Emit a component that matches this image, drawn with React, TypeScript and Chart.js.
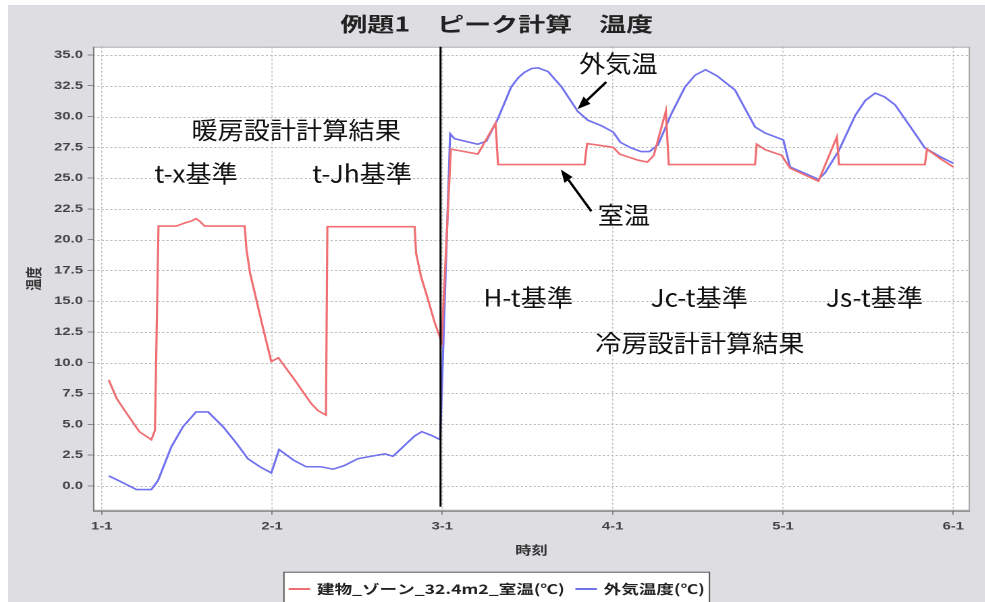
import React, { useEffect, useRef } from "react";
import { Chart, registerables } from "chart.js";

Chart.register(...registerables);

// ---------- data ----------
const chartTitle = "例題1　ピーク計算　温度";
const seriesNames = ["建物_ゾーン_32.4m2_室温(℃)", "外気温度(℃)"];
const xTitle = "時刻";
const yTitle = "温度";

const dayTicks = [0, 24, 48, 72, 96, 120];
const dayLabels = ["1-1", "2-1", "3-1", "4-1", "5-1", "6-1"];
const tempTicks = [0, 2.5, 5, 7.5, 10, 12.5, 15, 17.5, 20, 22.5, 25, 27.5, 30, 32.5, 35];

// room temperature (hours since 1-1 0:00, °C)
const roomHours = [
  1, 2.1, 3.5, 5.3, 7.0, 7.5, 8.0, 10.5, 11.7, 12.6, 13.3, 13.8, 14.5, 20.15, 20.4, 20.9, 21.8, 22.7, 23.9,
  24.9, 27.2, 29.5, 30.5, 31.6, 31.8, 44.1, 44.3, 45.0, 46.0, 46.9, 47.9,
  49.2, 53.0, 55.5, 55.85, 68.05, 68.4, 72.05, 73.0, 75.6, 76.9, 77.8, 79.5, 79.9,
  92.07, 92.3, 93.5, 95.8, 97.0, 101.0, 103.6, 103.9, 116.0, 116.3, 118.1, 120.0,
];
const roomTemp = [
  8.6, 7.1, 5.9, 4.4, 3.75, 4.5, 21.1, 21.1, 21.35, 21.5, 21.7, 21.5, 21.1, 21.1, 19.2, 17.3, 15.1, 12.9, 10.1,
  10.4, 8.6, 6.7, 6.1, 5.75, 21.05, 21.05, 18.9, 17.0, 15.1, 13.3, 11.7,
  27.35, 26.95, 29.45, 26.1, 26.1, 27.8, 27.5, 26.95, 26.45, 26.3, 26.85, 30.45, 26.1,
  26.1, 27.75, 27.3, 26.85, 25.8, 24.75, 28.35, 26.1, 26.1, 27.35, 26.6, 25.9,
];

// outdoor temperature
const outHours = [
  1, 2.3, 4.9, 7.0, 7.95, 9.8, 11.45, 13.3, 15.0, 17.1, 19.0, 20.6, 22.3, 23.9,
  25.0, 27.0, 28.8, 30.9, 32.6, 34.2, 36.1, 37.5, 39.9, 41.05, 42.7, 44.1, 45.1, 46.45, 47.7,
  49.1, 49.7, 53.0, 54.2, 55.85, 57.7, 58.7, 59.6, 60.6, 61.5, 62.9, 64.8, 67.1, 68.5, 70.4, 72.05,
  73.1, 74.6, 76.0, 77.2, 78.4, 80.3, 82.2, 83.6, 85.1, 86.7, 89.25, 90.65, 92.07, 93.5, 96.05,
  97.0, 101.0, 101.9, 103.8, 106.2, 107.6, 109.0, 110.3, 111.8, 114.1, 116.0, 118.1, 120.0,
];
const outTemp = [
  0.8, 0.45, -0.3, -0.3, 0.45, 3.15, 4.8, 6.0, 6.0, 4.8, 3.45, 2.2, 1.55, 1.05,
  2.95, 2.1, 1.55, 1.55, 1.35, 1.65, 2.2, 2.35, 2.6, 2.4, 3.3, 4.05, 4.4, 4.1, 3.75,
  28.6, 28.2, 27.75, 28.0, 29.85, 32.4, 33.15, 33.6, 33.9, 33.95, 33.65, 32.4, 30.4, 29.7, 29.25, 28.75,
  27.9, 27.45, 27.15, 27.15, 27.7, 30.25, 32.4, 33.35, 33.8, 33.3, 32.15, 30.65, 29.15, 28.65, 28.1,
  25.9, 24.9, 25.4, 27.15, 30.1, 31.3, 31.9, 31.6, 30.95, 29.05, 27.45, 26.75, 26.2,
];

// annotation texts placed in data coordinates (hour, °C)
const noteTexts = ["暖房設計計算結果", "t-x基準", "t-Jh基準", "外気温", "室温", "H-t基準", "Jc-t基準", "Js-t基準", "冷房設計計算結果"];
const noteHours = [27.4, 13.3, 36.7, 72.8, 73.6, 60.1, 84.2, 108.9, 84.3];
const noteTemps = [28.9, 25.4, 25.4, 34.3, 22.0, 15.3, 15.3, 15.3, 11.6];
// arrows: [tailHour, tailTemp, headHour, headTemp]
const arrows = [
  [71.1, 32.8, 67.05, 30.6],
  [69.0, 22.3, 64.7, 25.7],
];
const dividerHour = 47.75;
const dividerBottomTemp = -1.7;

// ---------- layout ----------
const SX = 1.35; // horizontal stretch of the whole picture
const W = 724;
const H = 597;
const CJK = "'Noto Sans CJK JP', 'Noto Sans', sans-serif";
const LAT = "'Liberation Sans', Arial, sans-serif";

function drawStretchedText(ctx: CanvasRenderingContext2D, text: string, x: number, y: number, font: string, stretch: number) {
  ctx.save();
  ctx.translate(x, y);
  ctx.scale(stretch / SX, 1);
  ctx.font = font;
  ctx.textAlign = "center";
  ctx.textBaseline = "middle";
  ctx.fillStyle = "#111";
  ctx.fillText(text, 0, 0);
  ctx.restore();
}

function drawArrow(ctx: CanvasRenderingContext2D, x1: number, y1: number, x2: number, y2: number) {
  ctx.save();
  ctx.scale(1 / SX, 1);
  const ax = x1 * SX;
  const bx = x2 * SX;
  const ang = Math.atan2(y2 - y1, bx - ax);
  const headLen = 13;
  const headW = 5;
  const hx = bx - headLen * Math.cos(ang);
  const hy = y2 - headLen * Math.sin(ang);
  ctx.strokeStyle = "#000";
  ctx.lineWidth = 2.4;
  ctx.beginPath();
  ctx.moveTo(ax, y1);
  ctx.lineTo(hx, hy);
  ctx.stroke();
  ctx.beginPath();
  ctx.moveTo(bx, y2);
  ctx.lineTo(hx + headW * Math.sin(ang), hy - headW * Math.cos(ang));
  ctx.lineTo(hx - headW * Math.sin(ang), hy + headW * Math.cos(ang));
  ctx.closePath();
  ctx.fillStyle = "#000";
  ctx.fill();
  ctx.restore();
}

const decorPlugin = {
  id: "decor",
  beforeDraw(chart: any) {
    const { ctx, chartArea: a } = chart;
    ctx.save();
    ctx.fillStyle = "#dedee2";
    ctx.fillRect(0, 0, chart.width, chart.height);
    ctx.fillStyle = "#ffffff";
    ctx.fillRect(a.left, a.top, a.right - a.left, a.bottom - a.top);
    ctx.restore();
  },
  beforeDatasetsDraw(chart: any) {
    const { ctx, chartArea: a } = chart;
    const xs = chart.scales.x;
    const ys = chart.scales.y;
    ctx.save();
    ctx.strokeStyle = "#bdbdbd";
    ctx.lineWidth = 1;
    ctx.setLineDash([1.6, 1.6]);
    tempTicks.forEach((v) => {
      const y = Math.round(ys.getPixelForValue(v)) + 0.5;
      ctx.beginPath();
      ctx.moveTo(a.left, y);
      ctx.lineTo(a.right, y);
      ctx.stroke();
    });
    ctx.lineWidth = 0.8;
    ctx.setLineDash([2, 2]);
    dayTicks.forEach((h) => {
      const x = xs.getPixelForValue(h);
      ctx.beginPath();
      ctx.moveTo(x, a.top);
      ctx.lineTo(x, a.bottom);
      ctx.stroke();
    });
    ctx.restore();
  },
  afterDraw(chart: any) {
    const { ctx, chartArea: a } = chart;
    const xs = chart.scales.x;
    const ys = chart.scales.y;
    ctx.save();
    // plot frame
    ctx.strokeStyle = "#a8a8a8";
    ctx.lineWidth = 1;
    ctx.strokeRect(a.left + 0.5, a.top + 0.5, a.right - a.left - 1, a.bottom - a.top - 1);
    ctx.strokeStyle = "#7a7a7a";
    ctx.beginPath();
    ctx.moveTo(a.left + 0.5, a.top);
    ctx.lineTo(a.left + 0.5, a.bottom + 0.5);
    ctx.lineTo(a.right, a.bottom + 0.5);
    ctx.stroke();

    // divider line
    const dx = xs.getPixelForValue(dividerHour);
    ctx.strokeStyle = "#000";
    ctx.lineWidth = 1.5;
    ctx.beginPath();
    ctx.moveTo(dx, a.top);
    ctx.lineTo(dx, ys.getPixelForValue(dividerBottomTemp));
    ctx.stroke();

    // annotation texts
    noteTexts.forEach((t, i) => {
      drawStretchedText(ctx, t, xs.getPixelForValue(noteHours[i]), ys.getPixelForValue(noteTemps[i]), `24px ${CJK}`, 1.09);
    });
    arrows.forEach((ar) => {
      drawArrow(ctx, xs.getPixelForValue(ar[0]), ys.getPixelForValue(ar[1]), xs.getPixelForValue(ar[2]), ys.getPixelForValue(ar[3]));
    });

    // title
    ctx.font = `bold 20px ${CJK}`;
    ctx.fillStyle = "#222";
    ctx.textAlign = "center";
    ctx.textBaseline = "middle";
    ctx.fillText(chartTitle, chart.width / 2, 19);

    // legend
    const colors = ["#ef6f73", "#7272ee"];
    ctx.font = `bold 13px ${CJK}`;
    const w1 = ctx.measureText(seriesNames[0]).width;
    const w2 = ctx.measureText(seriesNames[1]).width;
    const pad = 4, lineLen = 16, g1 = 5, g2 = 8;
    const total = pad + lineLen + g1 + w1 + g2 + lineLen + g1 + w2 + pad;
    const left = chart.width / 2 - total / 2;
    const top = chart.height - 30.3;
    const cy = chart.height - 13;
    ctx.fillStyle = "#ffffff";
    ctx.fillRect(left, top, total, chart.height - top + 5);
    ctx.strokeStyle = "#555";
    ctx.lineWidth = 1;
    ctx.strokeRect(left + 0.5, top + 0.5, total - 1, chart.height - top + 5);
    let x = left + pad;
    [w1, w2].forEach((w, i) => {
      ctx.strokeStyle = colors[i];
      ctx.lineWidth = 2;
      ctx.beginPath();
      ctx.moveTo(x, cy);
      ctx.lineTo(x + lineLen, cy);
      ctx.stroke();
      x += lineLen + g1;
      ctx.fillStyle = "#222";
      ctx.textAlign = "left";
      ctx.fillText(seriesNames[i], x, cy);
      x += w + g2;
    });
    ctx.restore();
  },
};

export default function App() {
  const ref = useRef<HTMLCanvasElement>(null);
  useEffect(() => {
    document.body.style.overflow = "hidden";
    const tickFont = { family: LAT, size: 11, weight: "bold" as const };
    const gridOpts = {
      display: true,
      drawOnChartArea: false,
      drawTicks: true,
      color: "#888",
      lineWidth: 1,
      tickLength: 4,
      tickColor: "#888",
      tickWidth: 1,
    };
    const chart = new Chart(ref.current!, {
      type: "line",
      data: {
        datasets: [
          {
            label: seriesNames[0],
            data: roomHours.map((h, i) => ({ x: h, y: roomTemp[i] })),
            borderColor: "#ef6f73",
            borderWidth: 1.6,
            pointRadius: 0,
            tension: 0,
            fill: false,
          },
          {
            label: seriesNames[1],
            data: outHours.map((h, i) => ({ x: h, y: outTemp[i] })),
            borderColor: "#7272ee",
            borderWidth: 1.6,
            pointRadius: 0,
            tension: 0,
            fill: false,
          },
        ],
      },
      options: {
        animation: false,
        responsive: false,
        maintainAspectRatio: false,
        devicePixelRatio: 2,
        events: [],
        layout: { padding: { left: 0, right: W - 712.6, top: 41.7, bottom: H - 505.7 - 50 } },
        plugins: { legend: { display: false }, title: { display: false }, tooltip: { enabled: false } },
        scales: {
          x: {
            type: "linear",
            min: -1.225,
            max: 122.36,
            afterBuildTicks: (s: any) => {
              s.ticks = dayTicks.map((v) => ({ value: v }));
            },
            afterFit: (s: any) => {
              s.height = 50;
            },
            ticks: {
              autoSkip: false,
              maxRotation: 0,
              padding: 5.4,
              font: tickFont,
              color: "#444",
              callback: (_v: any, i: number) => dayLabels[i],
            },
            grid: gridOpts,
            border: { display: false },
            title: { display: true, text: xTitle, font: { family: CJK, size: 12, weight: "bold" }, color: "#333", padding: { top: 0, bottom: 3.5 } },
          },
          y: {
            type: "linear",
            min: -2.02,
            max: 35.67,
            afterBuildTicks: (s: any) => {
              s.ticks = tempTicks.map((v) => ({ value: v }));
            },
            afterFit: (s: any) => {
              s.width = 62.96;
            },
            ticks: {
              autoSkip: false,
              padding: 3.4,
              font: tickFont,
              color: "#444",
              callback: (v: any) => Number(v).toFixed(1),
            },
            grid: gridOpts,
            border: { display: false },
            title: { display: true, text: yTitle, font: { family: CJK, size: 12, weight: "bold" }, color: "#333", padding: { top: 11.5, bottom: 0 } },
          },
        },
      },
      plugins: [decorPlugin],
    } as any);
    return () => chart.destroy();
  }, []);
  return (
    <div
      style={{
        position: "absolute",
        left: 8,
        top: 5,
        width: W,
        height: H,
        transform: `scaleX(${SX})`,
        transformOrigin: "0 0",
      }}
    >
      <canvas ref={ref} width={W} height={H} style={{ display: "block" }} />
    </div>
  );
}
